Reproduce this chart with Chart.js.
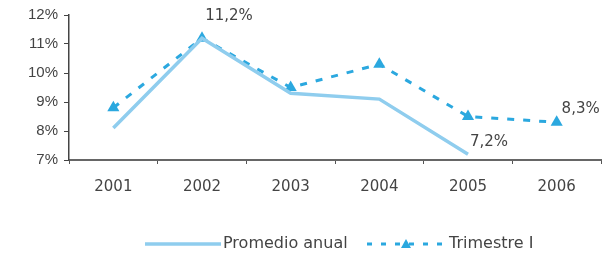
<!DOCTYPE html>
<html>
<head>
<meta charset="utf-8">
<script src="https://cdn.jsdelivr.net/npm/chart.js@4/dist/chart.umd.min.js"></script>
<style>
  html, body { margin: 0; padding: 0; background: #fff; }
  #wrap { width: 608px; height: 257px; position: relative; }
</style>
</head>
<body>
<div id="wrap"><canvas id="chart"></canvas></div>
<script>
// data
const years = ['2001', '2002', '2003', '2004', '2005', '2006'];
const promedioAnual = [8.1, 11.2, 9.3, 9.1, 7.2, null];
const trimestreI = [8.8, 11.2, 9.5, 10.3, 8.5, 8.3];
const yTicks = [7, 8, 9, 10, 11, 12];

const lightBlue = '#8fcdee';
const blue = '#2ba8df';
const textCol = '#444';
const wideFont = '"DejaVu Sans", Verdana, sans-serif';

// point labels: [dataset index, point index, dx, dy, align]
const pointNotes = [
  [0, 1, 27, -22, 'center'],
  [0, 4, 2, -12, 'left'],
  [1, 5, 24, -13, 'center']
];

const notesPlugin = {
  id: 'notes',
  afterDatasetsDraw(chart) {
    const ctx = chart.ctx;
    ctx.save();
    ctx.font = '15px ' + wideFont;
    ctx.fillStyle = textCol;
    ctx.textBaseline = 'middle';
    pointNotes.forEach(([d, i, dx, dy, align]) => {
      const pt = chart.getDatasetMeta(d).data[i];
      const v = chart.data.datasets[d].data[i];
      ctx.textAlign = align;
      ctx.fillText(v.toFixed(1).replace('.', ',') + '%', pt.x + dx, pt.y + dy);
    });
    ctx.restore();
  }
};

const legendPlugin = {
  id: 'myLegend',
  afterDraw(chart) {
    const ctx = chart.ctx;
    const y = 244;
    ctx.save();
    ctx.font = '16px ' + wideFont;
    ctx.fillStyle = textCol;
    ctx.textBaseline = 'middle';
    ctx.textAlign = 'left';
    // solid line sample
    ctx.strokeStyle = lightBlue;
    ctx.lineWidth = 3.5;
    ctx.beginPath();
    ctx.moveTo(145, y);
    ctx.lineTo(221, y);
    ctx.stroke();
    ctx.fillText(chart.data.datasets[0].label, 223, y);
    // dashed sample with triangle
    ctx.strokeStyle = blue;
    ctx.lineWidth = 3;
    ctx.setLineDash([5, 9]);
    ctx.beginPath();
    ctx.moveTo(367, y);
    ctx.lineTo(447, y);
    ctx.stroke();
    ctx.setLineDash([]);
    ctx.fillStyle = blue;
    ctx.beginPath();
    ctx.moveTo(406, y - 5);
    ctx.lineTo(411, y + 4);
    ctx.lineTo(401, y + 4);
    ctx.closePath();
    ctx.fill();
    ctx.fillStyle = textCol;
    ctx.fillText(chart.data.datasets[1].label, 449, y);
    ctx.restore();
  }
};

new Chart(document.getElementById('chart'), {
  type: 'line',
  data: {
    labels: years,
    datasets: [
      {
        label: 'Promedio anual',
        data: promedioAnual,
        borderColor: lightBlue,
        borderWidth: 3.5,
        pointRadius: 0,
        tension: 0,
        spanGaps: false
      },
      {
        label: 'Trimestre I',
        data: trimestreI,
        borderColor: blue,
        backgroundColor: blue,
        borderWidth: 3,
        borderDash: [7, 9],
        pointStyle: 'triangle',
        pointRadius: 7,
        pointBorderWidth: 0,
        tension: 0
      }
    ]
  },
  options: {
    responsive: true,
    maintainAspectRatio: false,
    animation: false,
    layout: { padding: { top: 15, right: 0, bottom: 57, left: 0 } },
    plugins: {
      legend: { display: false },
      tooltip: { enabled: false }
    },
    scales: {
      x: {
        offset: true,
        afterFit: s => { s.height = 40; },
        grid: { offset: true, drawOnChartArea: false, drawTicks: true, tickLength: 4, color: '#555' },
        border: { color: '#666', width: 2 },
        ticks: {
          color: textCol,
          padding: 14,
          font: { size: 15, family: wideFont }
        }
      },
      y: {
        min: yTicks[0],
        max: yTicks[yTicks.length - 1],
        afterFit: s => { s.width = 69; },
        afterBuildTicks: s => { s.ticks = yTicks.map(v => ({ value: v })); },
        grid: { drawOnChartArea: false, drawTicks: true, tickLength: 5, color: '#444' },
        border: { color: '#444', width: 1.5 },
        ticks: {
          color: textCol,
          padding: 6,
          font: { size: 15, family: '"Liberation Sans", Arial, sans-serif' },
          callback: v => v + '%'
        }
      }
    }
  },
  plugins: [notesPlugin, legendPlugin]
});
</script>
</body>
</html>
